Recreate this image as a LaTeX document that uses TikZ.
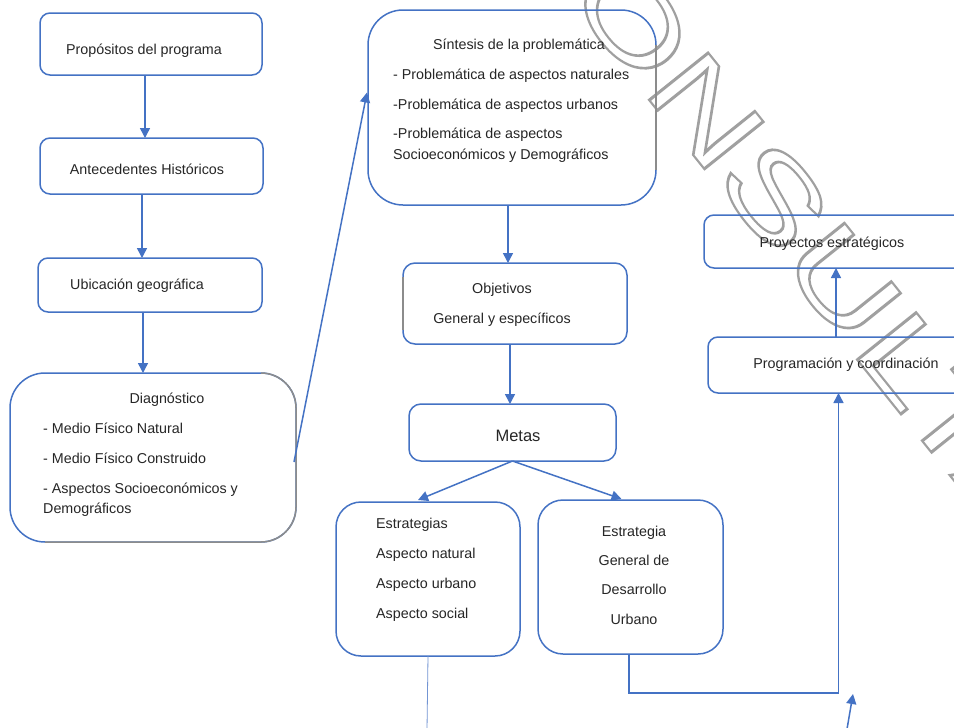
\documentclass[tikz,border=0pt]{standalone}
\usepackage{fontspec}
\setmainfont{Liberation Sans}
\usetikzlibrary{arrows.meta,calc}
\definecolor{myblue}{HTML}{4472C4}
\definecolor{txtc}{HTML}{262626}
\definecolor{wmgray}{HTML}{A0A0A0}
\definecolor{edgegray}{HTML}{8C8C8C}
\newcommand{\outlinetext}[1]{\special{pdf:literal direct 1 Tr 2.1 w}#1\special{pdf:literal direct 0 Tr}}
\tikzset{
  box/.style={draw=myblue, line width=1.5pt, inner sep=0pt, outer sep=0pt},
  lbl/.style={text=txtc, inner sep=0pt, font=\fontsize{14.3}{17}\selectfont},
  arr/.style={draw=myblue, line width=1.5pt, -{Triangle[length=10pt,width=10pt]}},
  graybord/.style={draw=edgegray, line width=1.5pt},
}
\begin{document}
\begin{tikzpicture}[x=1pt,y=1pt]
\useasboundingbox (0,0) rectangle (954,-728);
\clip (0,0) rectangle (954,-728);
\fill[white] (0,0) rectangle (954,-728);
% watermark (outlined letters, behind the diagram)
\node[anchor=base west, rotate=-51.3, inner sep=0pt, text=wmgray] (wm) at (493.2,94.6)
  {\scalebox{1.433}[1]{\fontsize{110}{110}\selectfont\outlinetext{CONSULTA}}};
% boxes
\node[box, rounded corners=10pt, minimum width=222pt, minimum height=62pt] (prop) at (151,-44) {};
\node[box, rounded corners=10pt, minimum width=223pt, minimum height=56pt] (ante) at (151.5,-166) {};
\node[box, rounded corners=10pt, minimum width=224pt, minimum height=54pt] (ubic) at (150,-285) {};
\node[box, rounded corners=35pt, minimum width=286pt, minimum height=169pt] (diag) at (153,-457.5) {};
\node[box, rounded corners=35pt, minimum width=288pt, minimum height=195pt] (sint) at (512,-107.5) {};
\node[box, rounded corners=12pt, minimum width=224pt, minimum height=81pt] (obj) at (515,-303.5) {};
\node[box, rounded corners=12pt, minimum width=207pt, minimum height=57pt] (metas) at (512.5,-432.5) {};
\node[box, rounded corners=25pt, minimum width=184pt, minimum height=154pt] (estr) at (428,-579) {};
\node[box, rounded corners=25pt, minimum width=185pt, minimum height=154pt] (egdu) at (630.5,-577) {};
\node[box, rounded corners=10pt, minimum width=296pt, minimum height=53pt] (proy) at (852,-241.5) {};
\node[box, rounded corners=10pt, minimum width=292pt, minimum height=56pt] (prog) at (854,-365) {};
% gray border parts
\draw[graybord, rounded corners=35pt] ([xshift=-35pt]diag.north east) -- (diag.north east) -- (diag.south east) -- ([xshift=35pt]diag.south west);
\draw[graybord] ([yshift=-35pt]sint.north east) -- ([yshift=35pt]sint.south east);
\draw[graybord] ([yshift=-14pt]obj.north west) -- ([yshift=14pt]obj.south west);
% texts
\node[lbl, anchor=base] (tprop) at (144,-54) {Propósitos del programa};
\node[lbl, anchor=base] (tante) at (147,-174) {Antecedentes Históricos};
\node[lbl, anchor=base] (tubic) at (137,-289) {Ubicación geográfica};
\node[lbl, anchor=base] (tdiag0) at (167,-403) {Diagnóstico};
\node[lbl, anchor=base west] (tdiag1) at (43,-433) {- Medio Físico Natural};
\node[lbl, anchor=base west] (tdiag2) at (43,-463) {- Medio Físico Construido};
\node[lbl, anchor=base west] (tdiag3) at (43,-493) {- Aspectos Socioeconómicos y};
\node[lbl, anchor=base west] (tdiag4) at (43,-513) {Demográficos};
\node[lbl, anchor=base] (tsint0) at (519,-49) {Síntesis de la problemática};
\node[lbl, anchor=base west] (tsint1) at (393,-79) {- Problemática de aspectos naturales};
\node[lbl, anchor=base west] (tsint2) at (393,-109) {-Problemática de aspectos urbanos};
\node[lbl, anchor=base west] (tsint3) at (393,-138) {-Problemática de aspectos};
\node[lbl, anchor=base west] (tsint4) at (393,-159) {Socioeconómicos y Demográficos};
\node[lbl, anchor=base] (tobj1) at (502,-293) {Objetivos};
\node[lbl, anchor=base] (tobj2) at (502,-323) {General y específicos};
\node[lbl, anchor=base, font=\fontsize{16.5}{19}\selectfont] (tmetas) at (518,-441) {Metas};
\node[lbl, anchor=base west] (testr1) at (376,-528) {Estrategias};
\node[lbl, anchor=base west] (testr2) at (376,-558) {Aspecto natural};
\node[lbl, anchor=base west] (testr3) at (376,-588) {Aspecto urbano};
\node[lbl, anchor=base west] (testr4) at (376,-618) {Aspecto social};
\node[lbl, anchor=base] (tegdu1) at (634,-536) {Estrategia};
\node[lbl, anchor=base] (tegdu2) at (634,-565) {General de};
\node[lbl, anchor=base] (tegdu3) at (634,-594) {Desarrollo};
\node[lbl, anchor=base] (tegdu4) at (634,-624) {Urbano};
\node[lbl, anchor=base] (tproy) at (832,-247) {Proyectos estratégicos};
\node[lbl, anchor=base] (tprog) at (846,-368) {Programación y coordinación};
% connectors
\draw[arr] ([xshift=-6pt]prop.south) -- ([xshift=-6pt]prop.south |- ante.north);
\draw[arr] ([xshift=-9.5pt]ante.south) -- ([xshift=-9.5pt]ante.south |- ubic.north);
\draw[arr] ([xshift=-7pt]ubic.south) -- ([xshift=-7pt]ubic.south |- diag.north);
\draw[arr] ([xshift=-2pt,yshift=-4.5pt]diag.east) -- ([xshift=-1pt,yshift=15pt]sint.west);
\draw[arr] ([xshift=-4pt]sint.south) -- ([xshift=-4pt]sint.south |- obj.north);
\draw[arr] ([xshift=-5pt]obj.south) -- ([xshift=-5pt]obj.south |- metas.north);
\draw[arr] (metas.south) -- ([xshift=-10pt,yshift=2pt]estr.north);
\draw[arr] (metas.south) -- ([xshift=-9pt,yshift=1pt]egdu.north);
\coordinate (estrend) at (427,-730);
\draw[myblue!75, line width=0.8pt] (estr.south) -- (estrend);
\coordinate (bend) at (838.5,-693);
\draw[arr] ([xshift=-1.5pt]egdu.south) |- (bend) -- (bend |- prog.south);
\draw[arr] ([xshift=-18pt]prog.north) -- ([xshift=-18pt]prog.north |- proy.south);
\coordinate (fa1) at (846.5,-732);
\coordinate (fa2) at (853,-694);
\draw[arr] (fa1) -- (fa2);
\end{tikzpicture}
\end{document}
